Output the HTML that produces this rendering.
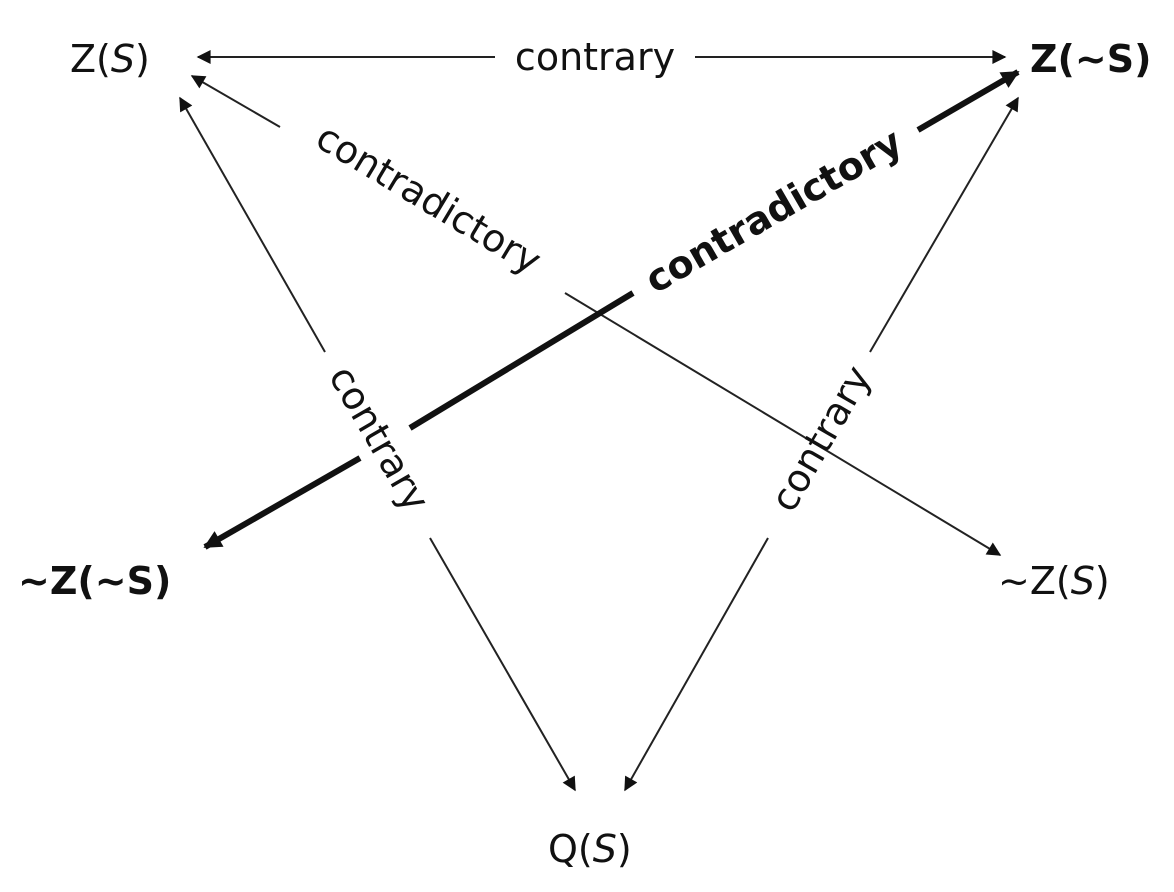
<!DOCTYPE html>
<html><head><style>body{margin:0;background:#fff}svg{display:block}</style></head><body>
<svg width="1174" height="892" viewBox="0 0 1174 892" xmlns="http://www.w3.org/2000/svg" font-family="'DejaVu Sans','Liberation Sans',sans-serif" fill="#111">
<defs>
<marker id="a" viewBox="0 0 10 10" refX="9" refY="5" markerWidth="20" markerHeight="14" markerUnits="userSpaceOnUse" orient="auto"><path d="M0,0L10,5L0,10z" fill="#111"/></marker>
<marker id="b" viewBox="0 0 10 10" refX="9" refY="5" markerWidth="24" markerHeight="18" markerUnits="userSpaceOnUse" orient="auto"><path d="M0,0L10,5L0,10z" fill="#111"/></marker>
</defs>
<g stroke="#222" stroke-width="2" fill="none">
<line x1="495" y1="57" x2="198" y2="57" marker-end="url(#a)"/>
<line x1="695" y1="57" x2="1005" y2="57" marker-end="url(#a)"/>
<line x1="280" y1="127" x2="192" y2="76" marker-end="url(#a)"/>
<line x1="565" y1="293" x2="1000" y2="555" marker-end="url(#a)"/>
<line x1="325" y1="352" x2="180" y2="98" marker-end="url(#a)"/>
<line x1="430" y1="538" x2="575" y2="790" marker-end="url(#a)"/>
<line x1="870" y1="352" x2="1018" y2="98" marker-end="url(#a)"/>
<line x1="768" y1="538" x2="625" y2="790" marker-end="url(#a)"/>
</g>
<g stroke="#111" stroke-width="6" fill="none">
<line x1="360" y1="458" x2="205" y2="547" marker-end="url(#b)"/>
<line x1="410" y1="428" x2="633" y2="293"/>
<line x1="918" y1="130" x2="1018" y2="72" marker-end="url(#b)"/>
</g>
<g font-size="38">
<text x="70" y="72">Z(<tspan font-style="italic">S</tspan>)</text>
<text x="1030" y="72" font-weight="bold">Z(~S)</text>
<text x="18" y="594" font-weight="bold">~Z(~S)</text>
<text x="998" y="594">~Z(<tspan font-style="italic">S</tspan>)</text>
<text x="548" y="862">Q(<tspan font-style="italic">S</tspan>)</text>
<text x="595" y="70" text-anchor="middle">contrary</text>
<text transform="translate(422,210) rotate(31)" text-anchor="middle">contradictory</text>
<text transform="translate(780,222) rotate(-30)" text-anchor="middle" font-weight="bold">contradictory</text>
<text transform="translate(368,445) rotate(60)" text-anchor="middle">contrary</text>
<text transform="translate(832,445) rotate(-60)" text-anchor="middle">contrary</text>
</g>
</svg>
</body></html>
